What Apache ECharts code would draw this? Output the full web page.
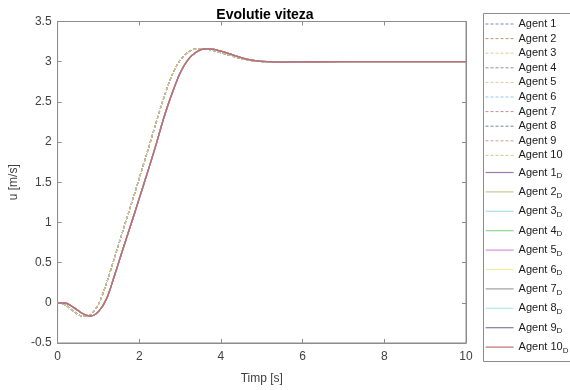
<!DOCTYPE html>
<html>
<head>
<meta charset="utf-8">
<script src="https://cdn.jsdelivr.net/npm/echarts@6/dist/echarts.min.js"></script>
<style>
  html, body { margin: 0; padding: 0; background: #fff; }
  #chart { width: 570px; height: 390px; }
</style>
</head>
<body>
<div id="chart"></div>
<script>
// Time samples [s]
const timeS = [0, 0.2, 0.4, 0.6, 0.8, 1.0, 1.2, 1.4, 1.6, 1.8, 2.0, 2.2, 2.4, 2.6, 2.8, 3.0,
               3.2, 3.4, 3.6, 3.8, 4.0, 4.2, 4.4, 4.6, 4.8, 5.0, 5.5, 6.0, 7.0, 8.0, 10.0];
// Measured agent speed u [m/s] (all agents coincide)
const agentSpeed = [0, -0.03, -0.11, -0.165, -0.15, -0.02, 0.25, 0.57, 0.9, 1.22, 1.55, 1.88,
                    2.22, 2.55, 2.83, 3.02, 3.12, 3.16, 3.16, 3.14, 3.11, 3.08, 3.05, 3.025,
                    3.01, 3.0, 2.996, 2.999, 3.0, 3.0, 3.0];
// Desired agent speed u_D [m/s]
const desiredSpeed = [0, -0.005, -0.06, -0.13, -0.165, -0.11, 0.05, 0.35, 0.67, 0.98, 1.3, 1.62,
                      1.95, 2.3, 2.6, 2.86, 3.03, 3.12, 3.16, 3.155, 3.13, 3.1, 3.065, 3.035,
                      3.015, 3.003, 2.995, 2.998, 3.0, 3.0, 3.0];
const agentNames = ['Agent 1', 'Agent 2', 'Agent 3', 'Agent 4', 'Agent 5',
                    'Agent 6', 'Agent 7', 'Agent 8', 'Agent 9', 'Agent 10'];
const agentColors = ['#7c8aa2', '#c98f6e', '#e2cc94', '#8a90a8', '#e8c6a0',
                     '#92c8e2', '#c2909a', '#728890', '#d2a092', '#d2cc8a'];
const desiredColors = ['#9c7aa8', '#c8c88e', '#a8e0ea', '#90d890', '#d890d8',
                       '#eeee9e', '#a0a0a0', '#b0e6f0', '#8878a0', '#c46e6e'];

const pairs = vals => timeS.map((t, i) => [t, vals[i]]);

const series = [];
agentNames.forEach((n, i) => {
  series.push({
    name: n, type: 'line', data: pairs(agentSpeed), symbol: 'none',
    lineStyle: { color: agentColors[i], width: 1.1, type: [3, 2] },
    itemStyle: { color: agentColors[i] }, smooth: 0.3, animation: false
  });
});
agentNames.forEach((n, i) => {
  series.push({
    name: n + 'D', type: 'line', data: pairs(desiredSpeed), symbol: 'none',
    lineStyle: { color: desiredColors[i], width: 1.3 },
    itemStyle: { color: desiredColors[i] }, smooth: 0.3, animation: false
  });
});

const axisGrey = '#8c8c8c';
const labelGrey = '#404040';
const font = 'Liberation Sans, Arial, sans-serif';

const chart = echarts.init(document.getElementById('chart'));
chart.setOption({
  animation: false,
  title: {
    text: 'Evolutie viteza', left: 260, top: 3, textAlign: 'center',
    textStyle: { fontSize: 14, fontWeight: 'bold', color: '#000', fontFamily: font }
  },
  grid: { left: 53.5, right: 104, top: 21.5, bottom: 43.3, show: true, borderColor: axisGrey, borderWidth: 1 },
  xAxis: [{
    type: 'value', min: 0, max: 10, interval: 2,
    name: 'Timp [s]', nameLocation: 'middle', nameGap: 30,
    nameTextStyle: { fontSize: 12, color: labelGrey, fontFamily: font },
    axisLine: { onZero: false, lineStyle: { color: axisGrey } },
    axisTick: { inside: true, length: 4, lineStyle: { color: axisGrey } },
    axisLabel: { fontSize: 12, color: labelGrey, margin: 8, fontFamily: font },
    splitLine: { show: false }
  }, {
    type: 'value', min: 0, max: 10, interval: 2, position: 'top',
    axisLine: { onZero: false, lineStyle: { color: axisGrey } },
    axisTick: { inside: true, length: 4, lineStyle: { color: axisGrey } },
    axisLabel: { show: false }, splitLine: { show: false }
  }],
  yAxis: [{
    type: 'value', min: -0.5, max: 3.5, interval: 0.5,
    name: 'u [m/s]', nameLocation: 'middle', nameGap: 26, nameRotate: 90,
    nameTextStyle: { fontSize: 12, color: labelGrey, fontFamily: font },
    axisLine: { show: true, onZero: false, lineStyle: { color: axisGrey } },
    axisTick: { show: true, inside: true, length: 4, lineStyle: { color: axisGrey } },
    axisLabel: { fontSize: 12, color: labelGrey, margin: 6, fontFamily: font },
    splitLine: { show: false }
  }, {
    type: 'value', min: -0.5, max: 3.5, interval: 0.5, position: 'right',
    axisLine: { show: true, onZero: false, lineStyle: { color: axisGrey } },
    axisTick: { show: true, inside: true, length: 4, lineStyle: { color: axisGrey } },
    axisLabel: { show: false }, splitLine: { show: false }
  }],
  legend: [{
    data: agentNames, orient: 'vertical', left: 480, top: 13,
    itemWidth: 28, itemHeight: 12, itemGap: 2.6,
    itemStyle: { opacity: 0 },
    lineStyle: { width: 1 },
    textStyle: { fontSize: 11, lineHeight: 12, color: '#1a1a1a', fontFamily: font }
  }, {
    data: agentNames.map(n => n + 'D'), orient: 'vertical', left: 480, top: 160,
    itemWidth: 28, itemHeight: 14, itemGap: 4.4,
    itemStyle: { opacity: 0 },
    lineStyle: { width: 1.2 },
    formatter: n => '{a|' + n.slice(0, -1) + '}{s|D}',
    textStyle: {
      color: '#1a1a1a', fontFamily: font,
      rich: {
        a: { fontSize: 11, lineHeight: 18, color: '#1a1a1a', fontFamily: font },
        s: { fontSize: 8, lineHeight: 18, color: '#1a1a1a', fontFamily: font, padding: [7, 0, 0, 0] }
      }
    }
  }],
  graphic: [{
    type: 'rect', left: 483, top: 13, z: 0,
    shape: { width: 100, height: 348 },
    style: { fill: '#fff', stroke: '#8c8c8c', lineWidth: 1 }
  }],
  series: series
});
</script>
</body>
</html>
